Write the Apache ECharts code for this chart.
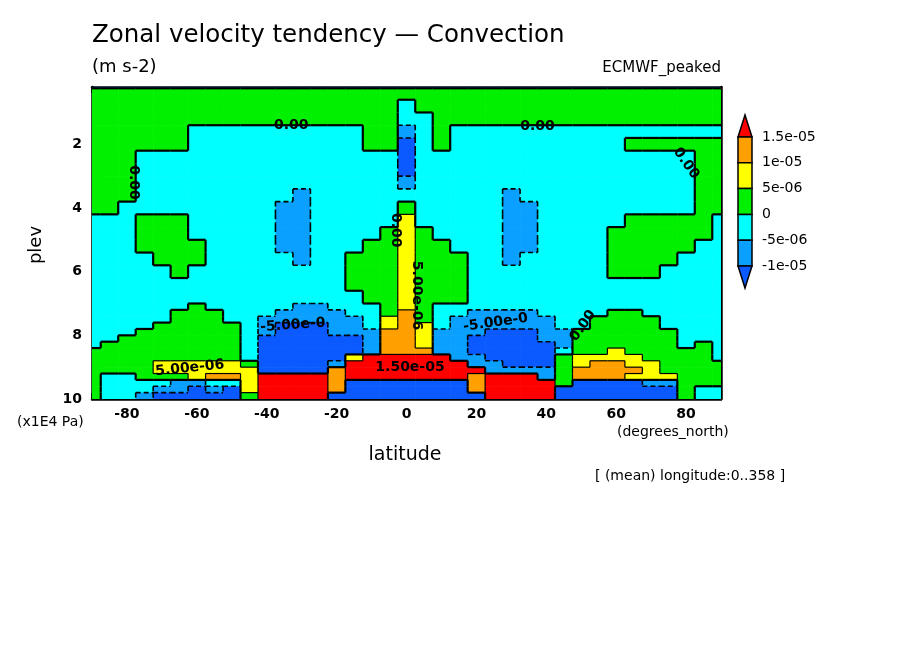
<!DOCTYPE html>
<html>
<head>
<meta charset="utf-8">
<script src="https://cdn.jsdelivr.net/npm/echarts@6/dist/echarts.min.js"></script>
<style>
  html, body { margin: 0; background: #fff; }
  #chart { width: 904px; height: 654px; }
</style>
</head>
<body>
<div id="chart"></div>
<script>
// column centres (degrees_north)
const lats = [-90, -85, -80, -75, -70, -65, -60, -55, -50, -45, -40, -35, -30, -25, -20, -15, -10, -5,
  0, 5, 10, 15, 20, 25, 30, 35, 40, 45, 50, 55, 60, 65, 70, 75, 80, 85, 90];

// row edges (x1E4 Pa), top to bottom
const plevEdges = [0.2, 0.24, 0.6, 1.0, 1.4, 1.8, 2.2, 2.6, 3.0, 3.4, 3.8, 4.2, 4.6, 5.0, 5.4, 5.8, 6.2, 6.6,
  7.0, 7.2, 7.4, 7.6, 7.8, 8.0, 8.2, 8.4, 8.6, 8.8, 9.0, 9.2, 9.4, 9.6, 9.8, 10.0];

// shaded class per cell, run-length coded per row (top row first)
// B < -1e-5 < b < -5e-6 < c < 0 < g < 5e-6 < y < 1e-5 < o < 1.5e-5 < r
const rows = [
  '37B',
  '37g',
  '18g c 18g',
  '18g 2c 17g',
  '6g 10c 2g b c g 16c',
  '6g 10c 2g B c g 10c 6g',
  '3g 15c B 16c 2g',
  '3g 15c B 16c 2g',
  '3g 15c b 16c 2g',
  '3g 9c b 11c b 10c 2g',
  '2g 9c 2b 5c g 5c 2b 9c 2g',
  '3c 3g 5c 2b 5c y 5c 2b 5c 5g c',
  '3c 3g 5c 2b 4c g y g 4c 2b 4c 6g c',
  '3c 4g 4c 2b 3c 2g y 2g 3c 2b 4c 5g 2c',
  '4c 3g 5c b 2c 3g y 3g 2c b 5c 4g 3c',
  '5c g 9c 3g y 3g 8c 3g 4c',
  '15c 3g y 3g 15c',
  '16c 2g y 3g 15c',
  '6c g 5c 2b 3c g y g 17c',
  '5c 3g 3c 4b 2c g o g 2c 4b 4c 2g 5c',
  '5c 3g 2c 6b c y o g c 6b 2c 4g 4c',
  '4c 5g c b 3B 2b c y o y c 6b 2c 4g 4c',
  '3c 6g c b 3B 3b 2o y 3b 3B 2b 6g 3c',
  '2c 7g c 6B b 2o y 2b 4B 2b 6g 3c',
  'c 8g c 6B b 2o y 2b 5B b 6g c g c',
  '9g c 6B b 3o 2b 5B c 2g y 5g c',
  '9g c 5B y 5r 2b 4B g 4y 4g c',
  '4g 5y g 4B b 7r 2b 3B g y 2o 2y 4g',
  '4g 6y 4B o 8r 4b g 4o y 4g',
  'g 2c 3g y 2o y 4r o 7r o 3r b g 3o 3y 3g',
  'g 4c 2b 2c y 4r o 7B o 4r g 4B 2b 3g',
  'g 3c 2b B b B y 4r o 7B o 4r 7B g 2c',
  'g 2c b 5B g 4r 9B 4r 7B g 2c'
];

const classValue = { B: -1.25e-5, b: -7.5e-6, c: -2.5e-6, g: 2.5e-6, y: 7.5e-6, o: 1.25e-5, r: 1.75e-5 };

// contour levels and shading, low to high
const levels = [-1e-5, -5e-6, 0, 5e-6, 1e-5, 1.5e-5];
const levelLabels = ['-1e-05', '-5e-06', '0', '5e-06', '1e-05', '1.5e-05'];
const colors = ['#0a5aff', '#0aa0ff', '#00ffff', '#00f000', '#ffff00', '#ffa000', '#ff0000'];

// contour labels as they sit on the picture
const labelLats = [-33, 37.5, -78, 80, -3.2, 2.8, -32.5, 25.5, 50.5, -62, 1];
const labelPlevs = [1.42, 1.44, 3.2, 2.6, 4.7, 6.75, 7.68, 7.6, 7.7, 9.03, 9.0];
const labelTexts = ['0.00', '0.00', '0.00', '0.00', '0.00', '5.00e-06', '-5.00e-0', '-5.00e-0', '0.00', '5.00e-06', '1.50e-05'];
const labelAngles = [0, 0, -90, -55, -90, -90, 4, 8, 55, 6, 0];

const latTicks = [-90, -80, -70, -60, -50, -40, -30, -20, -10, 0, 10, 20, 30, 40, 50, 60, 70, 80, 90];
const latLabels = [-80, -60, -40, -20, 0, 20, 40, 60, 80];
const plevTicks = [1, 2, 3, 4, 5, 6, 7, 8, 9, 10];
const plevLabels = [2, 4, 6, 8, 10];

function expand(code) {
  let out = '';
  code.split(' ').forEach(tok => {
    const n = tok.length > 1 ? parseInt(tok, 10) : 1;
    out += tok[tok.length - 1].repeat(n);
  });
  return out;
}

// 0 = no line, 1 = zero contour, 2 = negative contour (dashed), 3 = positive contour
function edgeKind(a, b) {
  if (a === b) return 0;
  const va = classValue[a], vb = classValue[b];
  if (va * vb < 0) return 1;
  return va < 0 ? 2 : 3;
}

const grid = rows.map(expand);
const cells = [];
grid.forEach((line, r) => {
  lats.forEach((lat, i) => {
    const right = i < lats.length - 1 ? edgeKind(line[i], line[i + 1]) : 0;
    const below = r < grid.length - 1 ? edgeKind(line[i], grid[r + 1][i]) : 0;
    cells.push([lat, plevEdges[r], plevEdges[r + 1], classValue[line[i]], right, below]);
  });
});

const pieces = [{ lt: levels[0], color: colors[0] }];
for (let i = 0; i < levels.length - 1; i++) {
  pieces.push({ gte: levels[i], lt: levels[i + 1], color: colors[i + 1] });
}
pieces.push({ gte: levels[levels.length - 1], color: colors[colors.length - 1] });

const edgeStyle = {
  1: { stroke: '#000', lineWidth: 2.2 },
  2: { stroke: '#000', lineWidth: 1.6, lineDash: [5, 3] },
  3: { stroke: '#000', lineWidth: 1.2 }
};

const font = 'DejaVu Sans';

const labelData = labelTexts.map((t, i) => ({
  value: [labelLats[i], labelPlevs[i]],
  label: { formatter: t, rotate: labelAngles[i] }
}));

// colour key on the right
const cbX = 738, cbW = 14, cbTop = 137, cbStep = 25.8, cbTip = 22;
const keyGraphics = [];
const nBox = colors.length - 2;
keyGraphics.push({
  type: 'polygon',
  shape: { points: [[cbX + cbW / 2, cbTop - cbTip], [cbX + cbW, cbTop], [cbX, cbTop]] },
  style: { fill: colors[colors.length - 1], stroke: '#000', lineWidth: 1.5 }
});
for (let k = 0; k < nBox; k++) {
  keyGraphics.push({
    type: 'rect',
    shape: { x: cbX, y: cbTop + k * cbStep, width: cbW, height: cbStep },
    style: { fill: colors[colors.length - 2 - k], stroke: '#000', lineWidth: 1.5 }
  });
}
const cbBot = cbTop + nBox * cbStep;
keyGraphics.push({
  type: 'polygon',
  shape: { points: [[cbX, cbBot], [cbX + cbW, cbBot], [cbX + cbW / 2, cbBot + cbTip]] },
  style: { fill: colors[0], stroke: '#000', lineWidth: 1.5 }
});
levelLabels.slice().reverse().forEach((t, k) => {
  keyGraphics.push({
    type: 'text',
    x: cbX + cbW + 10, y: cbTop + k * cbStep,
    style: { text: t, font: '14px "' + font + '"', fill: '#000', verticalAlign: 'middle' }
  });
});

function txt(x, y, text, size, extra) {
  const el = { type: 'text', x: x, y: y, style: { text: text, font: size + 'px "' + font + '"', fill: '#000' } };
  if (extra) {
    if (extra.align) el.style.align = extra.align;
    if (extra.rotation) el.rotation = extra.rotation;
  }
  return el;
}

function cellBox(params, api) {
  const lat = api.value(0);
  return {
    p0: api.coord([lat - 2.5, api.value(1)]),
    p1: api.coord([lat + 2.5, api.value(2)]),
    cs: params.coordSys
  };
}

const chart = echarts.init(document.getElementById('chart'));
chart.setOption({
  backgroundColor: '#fff',
  animation: false,
  grid: { left: 92, top: 87, width: 629, height: 312, show: false },
  visualMap: { show: false, type: 'piecewise', dimension: 3, seriesIndex: 0, pieces: pieces },
  xAxis: [
    {
      type: 'value', min: -90, max: 90, position: 'bottom',
      axisLine: { show: true, onZero: false, lineStyle: { color: '#000', width: 2.5 } },
      axisTick: { show: true, inside: true, length: 6, customValues: latTicks, lineStyle: { color: '#000', width: 1.5 } },
      axisLabel: { customValues: latLabels, color: '#000', fontFamily: font, fontSize: 14, fontWeight: 'bold', margin: 8 },
      splitLine: { show: false }
    },
    {
      type: 'value', min: -90, max: 90, position: 'top',
      axisLine: { show: true, onZero: false, lineStyle: { color: '#000', width: 2.5 } },
      axisTick: { show: true, inside: true, length: 6, customValues: latTicks, lineStyle: { color: '#000', width: 1.5 } },
      axisLabel: { show: false },
      splitLine: { show: false }
    }
  ],
  yAxis: [
    {
      type: 'value', min: 0.2, max: 10, inverse: true, position: 'left',
      axisLine: { show: true, onZero: false, lineStyle: { color: '#000', width: 2.5 } },
      axisTick: { show: true, inside: true, length: 6, customValues: plevTicks, lineStyle: { color: '#000', width: 1.5 } },
      axisLabel: { customValues: plevLabels, color: '#000', fontFamily: font, fontSize: 14, fontWeight: 'bold', margin: 10 },
      splitLine: { show: false }
    },
    {
      type: 'value', min: 0.2, max: 10, inverse: true, position: 'right',
      axisLine: { show: true, onZero: false, lineStyle: { color: '#000', width: 2.5 } },
      axisTick: { show: true, inside: true, length: 6, customValues: plevTicks, lineStyle: { color: '#000', width: 1.5 } },
      axisLabel: { show: false },
      splitLine: { show: false }
    }
  ],
  series: [
    {
      // shading
      type: 'custom',
      xAxisIndex: 0,
      yAxisIndex: 0,
      clip: true,
      z: 2,
      encode: { x: 0, y: [1, 2] },
      data: cells,
      renderItem: function (params, api) {
        const c = cellBox(params, api);
        const shape = echarts.graphic.clipRectByRect({
          x: Math.min(c.p0[0], c.p1[0]), y: Math.min(c.p0[1], c.p1[1]),
          width: Math.abs(c.p1[0] - c.p0[0]) + 0.6, height: Math.abs(c.p1[1] - c.p0[1]) + 0.6
        }, { x: c.cs.x, y: c.cs.y, width: c.cs.width, height: c.cs.height });
        if (!shape) return;
        return { type: 'rect', shape: shape, style: { fill: api.visual('color') } };
      }
    },
    {
      // contour lines along class boundaries
      type: 'custom',
      xAxisIndex: 0,
      yAxisIndex: 0,
      clip: true,
      z: 3,
      silent: true,
      encode: { x: 0, y: [1, 2] },
      data: cells,
      renderItem: function (params, api) {
        const c = cellBox(params, api);
        const right = api.value(4), below = api.value(5);
        const children = [];
        if (right) {
          children.push({
            type: 'line',
            shape: { x1: c.p1[0], y1: c.p0[1], x2: c.p1[0], y2: c.p1[1] },
            style: edgeStyle[right]
          });
        }
        if (below) {
          children.push({
            type: 'line',
            shape: { x1: Math.max(c.p0[0], c.cs.x), y1: c.p1[1], x2: Math.min(c.p1[0], c.cs.x + c.cs.width), y2: c.p1[1] },
            style: edgeStyle[below]
          });
        }
        return { type: 'group', children: children };
      }
    },
    {
      // contour labels
      type: 'scatter',
      xAxisIndex: 0,
      yAxisIndex: 0,
      z: 4,
      silent: true,
      symbolSize: 0,
      itemStyle: { opacity: 1 },
      data: labelData,
      label: {
        show: true, position: 'inside', color: '#000', opacity: 1,
        fontFamily: font, fontSize: 14, fontWeight: 'bold'
      }
    }
  ],
  graphic: [
    txt(92, 23, 'Zonal velocity tendency — Convection', 24.5),
    txt(92, 58, '(m s-2)', 18),
    txt(721, 61, 'ECMWF_peaked', 15, { align: 'right' }),
    txt(17, 415, '(x1E4 Pa)', 14),
    txt(617, 425, '(degrees_north)', 14),
    txt(405, 446, 'latitude', 19, { align: 'center' }),
    txt(27, 245, 'plev', 18, { align: 'center', rotation: Math.PI / 2 }),
    txt(595, 469, '[ (mean) longitude:0..358 ]', 14)
  ].concat(keyGraphics)
});
</script>
</body>
</html>
